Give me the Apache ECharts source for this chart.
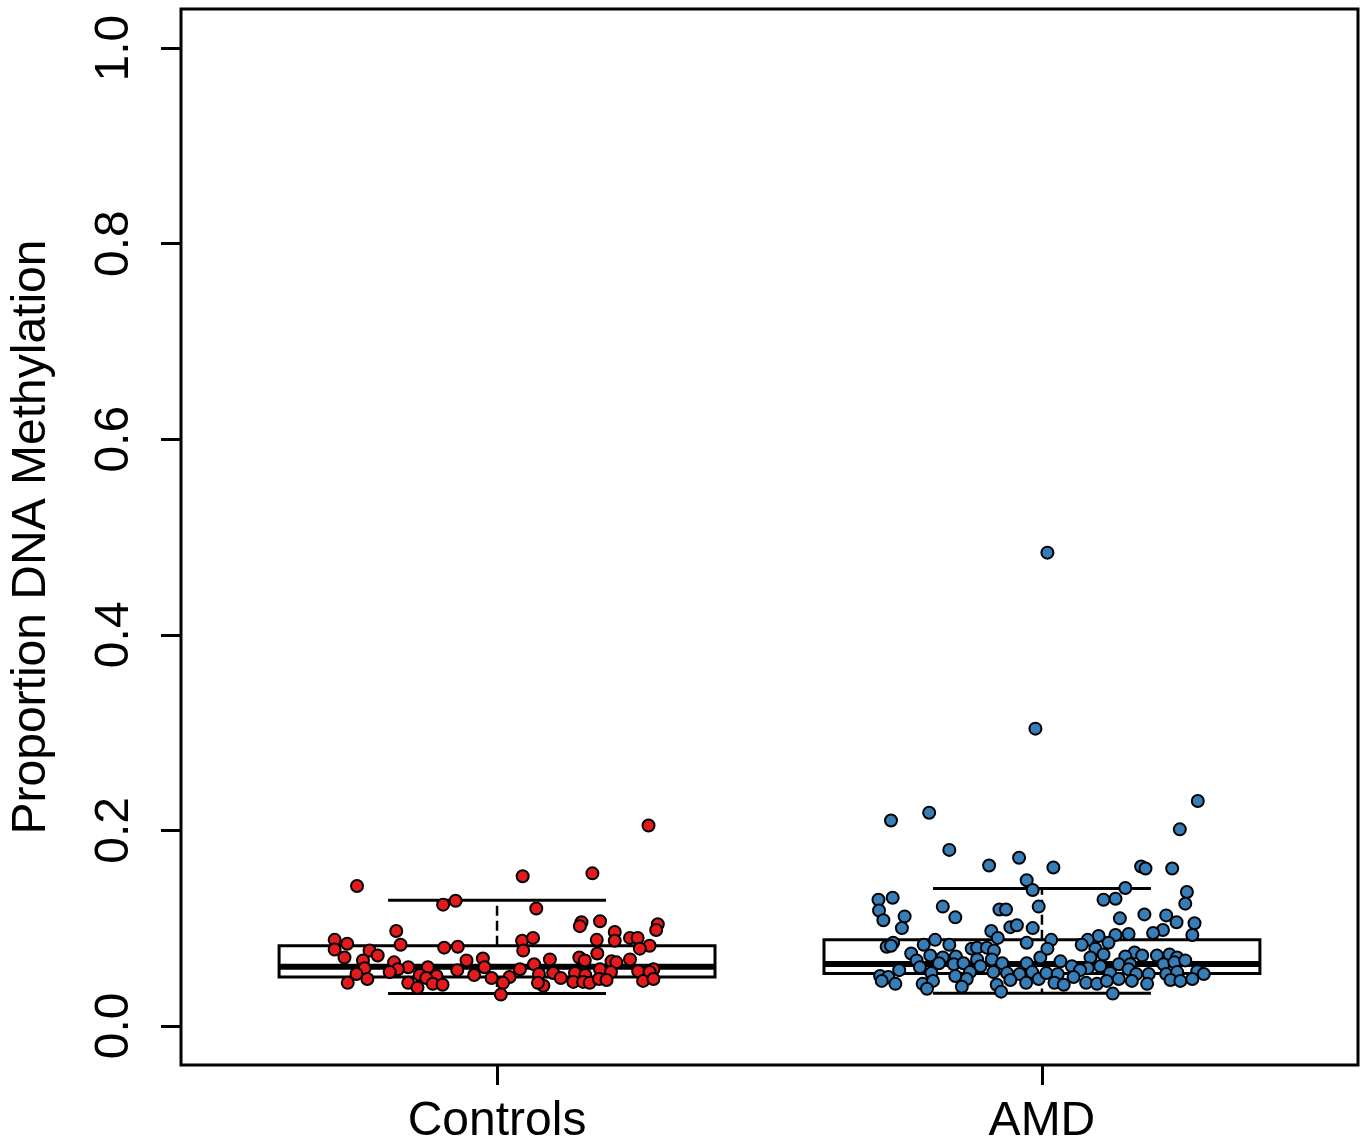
<!DOCTYPE html>
<html>
<head>
<meta charset="utf-8">
<script src="https://cdn.jsdelivr.net/npm/echarts@6/dist/echarts.min.js"></script>
<style>
html,body{margin:0;padding:0;background:#fff;}
#chart{width:1362px;height:1143px;}
</style>
</head>
<body>
<div id="chart"></div>
<script>
// ---- data ----
const categories = ['Controls', 'AMD'];
const yTicks = [0, 0.2, 0.4, 0.6, 0.8, 1.0];
const yTitle = 'Proportion DNA Methylation';

// box statistics: [lower whisker, Q1, median, Q3, upper whisker]
const controlsStats = [0.033, 0.050, 0.0605, 0.082, 0.1285];
const amdStats = [0.0335, 0.0535, 0.0632, 0.088, 0.1406];

// jittered horizontal offsets (axis units from the group centre) and values
const controlsJitter = [
  -0.257,-0.099,-0.076,-0.185,-0.298,-0.275,-0.177,-0.097,-0.072,-0.298,
  -0.234,-0.219,-0.280,-0.246,-0.056,-0.026,-0.189,-0.163,-0.127,-0.243,
  -0.182,-0.197,-0.073,-0.023,-0.258,-0.142,-0.111,-0.130,-0.042,-0.238,
  -0.274,-0.163,-0.118,-0.100,-0.146,-0.010,
  0.278,0.047,0.175,0.072,0.155,0.152,0.189,0.295,0.292,0.216,
  0.216,0.244,0.258,0.046,0.066,0.183,0.280,0.048,0.262,0.184,
  0.151,0.097,0.161,0.244,0.068,0.210,0.219,0.042,0.077,0.103,
  0.189,0.209,0.259,0.287,0.280,0.023,0.011,0.117,0.143,0.162,
  0.140,0.158,0.170,0.187,0.201,0.085,0.075,0.268,0.287,0.007
];
const controlsValues = [
  0.143,0.124,0.128,0.097,0.088,0.084,0.083,0.080,0.081,0.078,
  0.077,0.072,0.070,0.067,0.067,0.069,0.065,0.060,0.060,0.059,
  0.058,0.055,0.057,0.060,0.053,0.052,0.051,0.049,0.052,0.048,
  0.044,0.044,0.043,0.042,0.039,0.049,
  0.205,0.153,0.156,0.120,0.106,0.102,0.107,0.104,0.098,0.096,
  0.087,0.090,0.090,0.087,0.090,0.088,0.082,0.077,0.079,0.074,
  0.070,0.068,0.067,0.068,0.063,0.066,0.065,0.058,0.053,0.054,
  0.058,0.055,0.056,0.058,0.055,0.050,0.044,0.049,0.054,0.052,
  0.045,0.045,0.044,0.048,0.047,0.041,0.044,0.046,0.048,0.032
];

const amdJitter = [
  -0.277,-0.207,-0.170,-0.097,-0.042,-0.028,-0.017,-0.300,-0.274,-0.299,
  -0.291,-0.252,-0.182,-0.159,-0.078,-0.066,-0.006,-0.257,-0.093,-0.058,
  -0.046,-0.017,-0.081,-0.196,-0.273,-0.285,-0.277,-0.217,-0.170,-0.028,
  -0.129,-0.119,-0.101,-0.088,-0.240,-0.205,-0.182,-0.158,-0.230,-0.119,
  -0.092,-0.003,-0.189,-0.162,-0.144,-0.113,-0.073,-0.028,-0.262,-0.224,
  -0.203,-0.132,-0.089,-0.064,-0.159,-0.041,-0.018,-0.297,-0.282,-0.294,
  -0.269,-0.219,-0.200,-0.138,-0.058,-0.029,-0.006,-0.147,-0.083,-0.211,
  -0.075,
  0.286,0.253,0.021,0.182,0.190,0.239,0.153,0.135,0.113,0.266,
  0.263,0.188,0.143,0.228,0.247,0.280,0.222,0.204,0.159,0.135,
  0.104,0.276,0.017,0.084,0.122,0.073,0.010,0.098,0.113,0.170,
  0.184,0.153,0.211,0.234,0.248,0.034,0.089,0.055,0.084,0.107,
  0.141,0.162,0.223,0.243,0.263,0.285,0.008,0.029,0.070,0.125,
  0.159,0.173,0.196,0.228,0.248,0.297,0.023,0.040,0.058,0.081,
  0.101,0.119,0.141,0.165,0.193,0.236,0.254,0.276,0.130,
  0.010,-0.012
];
const amdValues = [
  0.210,0.218,0.180,0.164,0.172,0.149,0.139,0.129,0.131,0.118,
  0.108,0.112,0.122,0.111,0.119,0.119,0.122,0.100,0.097,0.101,
  0.103,0.100,0.090,0.088,0.085,0.081,0.082,0.083,0.083,0.085,
  0.079,0.080,0.080,0.077,0.074,0.072,0.070,0.071,0.067,0.068,
  0.068,0.070,0.064,0.063,0.064,0.061,0.064,0.064,0.057,0.060,
  0.054,0.055,0.055,0.054,0.051,0.053,0.055,0.051,0.050,0.046,
  0.043,0.043,0.046,0.048,0.047,0.044,0.048,0.040,0.042,0.038,
  0.035,
  0.230,0.201,0.162,0.163,0.161,0.161,0.141,0.130,0.129,0.137,
  0.125,0.114,0.110,0.113,0.106,0.105,0.098,0.095,0.094,0.093,
  0.092,0.093,0.088,0.088,0.085,0.083,0.079,0.079,0.073,0.075,
  0.072,0.071,0.072,0.073,0.070,0.066,0.070,0.061,0.059,0.061,
  0.063,0.063,0.063,0.065,0.067,0.056,0.054,0.053,0.057,0.054,
  0.058,0.053,0.053,0.053,0.055,0.053,0.044,0.042,0.050,0.044,
  0.043,0.046,0.048,0.046,0.043,0.047,0.046,0.048,0.033,
  0.484,0.304
];

// ---- chart ----
const FONT = "'Liberation Sans', Arial, Helvetica, sans-serif";
const chart = echarts.init(document.getElementById('chart'), null, {renderer: 'canvas'});

function pts(center, jit, vals) {
  return vals.map((v, i) => [center + jit[i], v]);
}

const boxData = [
  [1].concat(controlsStats),
  [2].concat(amdStats)
];

function renderBox(params, api) {
  const pos = api.value(0);
  const lw = api.value(1), q1 = api.value(2), med = api.value(3), q3 = api.value(4), uw = api.value(5);
  const c = (x, y) => api.coord([x, y]);
  const line = (a, b, style) => ({
    type: 'line',
    shape: {x1: a[0], y1: a[1], x2: b[0], y2: b[1]},
    style: Object.assign({stroke: '#000', lineWidth: 3}, style || {})
  });
  const tl = c(pos - 0.4, q3), br = c(pos + 0.4, q1);
  return {
    type: 'group',
    children: [
      line(c(pos, q3), c(pos, uw), {lineWidth: 2.5, lineDash: [10, 5]}),
      line(c(pos, q1), c(pos, lw), {lineWidth: 2.5, lineDash: [10, 5]}),
      line(c(pos - 0.2, uw), c(pos + 0.2, uw)),
      line(c(pos - 0.2, lw), c(pos + 0.2, lw)),
      {
        type: 'rect',
        shape: {x: tl[0], y: tl[1], width: br[0] - tl[0], height: br[1] - tl[1]},
        style: {fill: '#fff', stroke: '#000', lineWidth: 3}
      },
      line(c(pos - 0.4, med), c(pos + 0.4, med), {lineWidth: 6})
    ]
  };
}

const option = {
  backgroundColor: '#fff',
  animation: false,
  grid: {
    left: 181, top: 9, right: 4, bottom: 78,
    outerBoundsMode: 'none', containLabel: false,
    show: true, borderColor: '#000', borderWidth: 3, backgroundColor: 'transparent'
  },
  xAxis: {
    type: 'value', min: 0.42, max: 2.58,
    axisLine: {show: false, onZero: false},
    splitLine: {show: false},
    axisTick: {show: true, customValues: [1, 2], length: 20, lineStyle: {color: '#000', width: 3}},
    axisLabel: {
      customValues: [1, 2],
      formatter: v => categories[Math.round(v) - 1],
      color: '#000', fontSize: 48, fontFamily: FONT, margin: 33
    }
  },
  yAxis: {
    type: 'value', min: -0.04, max: 1.04,
    name: yTitle, nameLocation: 'middle', nameRotate: 90, nameGap: 125,
    nameTextStyle: {color: '#000', fontSize: 48, fontFamily: FONT},
    axisLine: {show: false, onZero: false},
    splitLine: {show: false},
    axisTick: {show: true, customValues: yTicks, length: 20, lineStyle: {color: '#000', width: 3}},
    axisLabel: {
      customValues: yTicks,
      rotate: 90,
      formatter: v => v.toFixed(1),
      color: '#000', fontSize: 48, fontFamily: FONT, margin: 42
    }
  },
  series: [
    {
      type: 'custom', name: 'boxes', renderItem: renderBox, data: boxData, z: 2,
      encode: {x: 0, y: [1, 2, 3, 4, 5]}
    },
    {
      type: 'scatter', name: categories[0], data: pts(1, controlsJitter, controlsValues), z: 5,
      symbolSize: 12,
      itemStyle: {color: '#E41A1C', borderColor: '#000', borderWidth: 2, opacity: 1}
    },
    {
      type: 'scatter', name: categories[1], data: pts(2, amdJitter, amdValues), z: 5,
      symbolSize: 12,
      itemStyle: {color: '#377EB8', borderColor: '#000', borderWidth: 2, opacity: 1}
    }
  ]
};
chart.setOption(option);
</script>
</body>
</html>
